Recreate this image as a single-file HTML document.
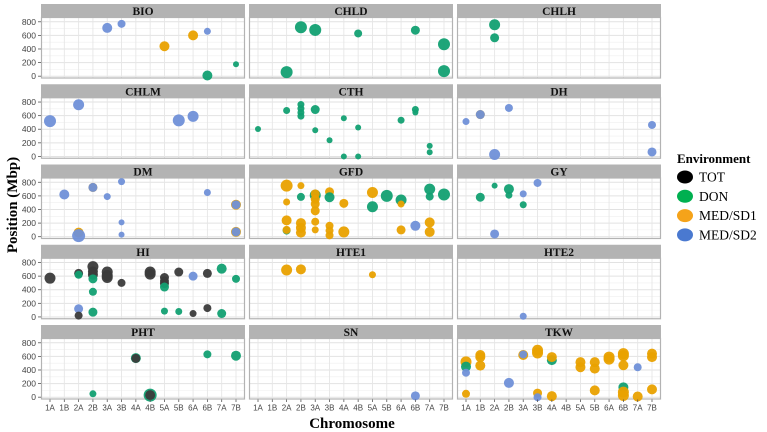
<!DOCTYPE html>
<html><head><meta charset="utf-8"><style>
body{margin:0;background:#fff;}
svg{display:block;font-family:"Liberation Serif",serif;}
</style></head><body>
<svg id="chart" width="767" height="432" viewBox="0 0 767 432"></svg>
<script>
const chromosomes=["1A","1B","2A","2B","3A","3B","4A","4B","5A","5B","6A","6B","7A","7B"];
const yTicks=[0,200,400,600,800];
const traits=["BIO","CHLD","CHLH","CHLM","CTH","DH","DM","GFD","GY","HI","HTE1","HTE2","PHT","SN","TKW"];
const envNames=["TOT","DON","MED/SD1","MED/SD2"];
// [chromosome, position Mbp, environment, bubble radius]
const BIO=[["3A",710,"MED/SD2",5],["3B",770,"MED/SD2",4],["5A",440,"MED/SD1",5],["6A",600,"MED/SD1",5],["6B",660,"MED/SD2",3.5],["6B",10,"DON",5],["7B",175,"DON",3]];
const CHLD=[["2B",720,"DON",6],["3A",680,"DON",6],["4B",628,"DON",4],["6B",676,"DON",4.5],["7B",470,"DON",6],["7B",74,"DON",6],["2A",59,"DON",6]];
const CHLH=[["2A",756,"DON",5.5],["2A",565,"DON",4.5]];
const CHLM=[["1A",520,"MED/SD2",6],["2A",760,"MED/SD2",5.5],["5B",530,"MED/SD2",6],["6A",590,"MED/SD2",5.5]];
const CTH=[["1A",404,"DON",3],["2A",675,"DON",3.5],["2B",763,"DON",3.5],["2B",704,"DON",3.5],["2B",647,"DON",3.5],["2B",593,"DON",3.5],["3A",690,"DON",4.5],["3A",385,"DON",3],["3B",238,"DON",3],["4A",562,"DON",3],["4A",0,"DON",3],["4B",425,"DON",3],["4B",0,"DON",3],["6A",533,"DON",3.5],["6B",690,"DON",3.5],["6B",646,"DON",3],["7A",155,"DON",3],["7A",62,"DON",3]];
const DH=[["1A",513,"MED/SD2",3.5],["1B",616,"MED/SD1",4.5],["1B",616,"MED/SD2",4.5],["2B",713,"MED/SD2",4],["2A",28,"MED/SD2",5.5],["7B",463,"MED/SD2",4],["7B",66,"MED/SD2",4.5]];
const DM=[["1B",620,"MED/SD2",5],["2A",60,"MED/SD1",5],["2A",15,"MED/SD2",6.5],["2B",725,"MED/SD1",4.5],["2B",725,"MED/SD2",4.5],["3A",590,"MED/SD2",3.5],["3B",810,"MED/SD2",3.5],["3B",210,"MED/SD2",3],["3B",30,"MED/SD2",3],["6B",650,"MED/SD2",3.5],["7B",470,"MED/SD1",5],["7B",470,"MED/SD2",4.5],["7B",70,"MED/SD1",5],["7B",70,"MED/SD2",4.5]];
const GFD=[["2A",750,"MED/SD1",6],["2A",510,"MED/SD1",3.5],["2A",240,"MED/SD1",5],["2A",90,"DON",4],["2A",100,"MED/SD1",4],["2B",750,"MED/SD1",3.5],["2B",585,"DON",4],["2B",200,"MED/SD1",5],["2B",130,"MED/SD1",5],["2B",60,"MED/SD1",5],["3A",610,"DON",5.5],["3A",630,"MED/SD1",4.5],["3A",550,"MED/SD1",4.5],["3A",480,"MED/SD1",4.5],["3A",380,"MED/SD1",4.5],["3A",220,"MED/SD1",4],["3A",100,"MED/SD1",3.5],["3B",660,"MED/SD1",4.5],["3B",580,"DON",5],["3B",160,"MED/SD1",4],["3B",90,"MED/SD1",4],["3B",20,"MED/SD1",4],["4A",490,"MED/SD1",4.5],["4A",70,"MED/SD1",5.5],["5A",650,"MED/SD1",5.5],["5A",440,"DON",5.5],["5B",600,"DON",6],["6A",540,"DON",5.5],["6A",480,"MED/SD1",3.5],["6A",100,"MED/SD1",4.5],["6B",160,"MED/SD2",5],["7A",700,"DON",5.5],["7A",590,"DON",4],["7A",210,"MED/SD1",5],["7A",70,"MED/SD1",5],["7B",620,"DON",6]];
const GY=[["1B",580,"DON",4.5],["2A",750,"DON",3],["2A",40,"MED/SD2",4.5],["2B",700,"DON",5],["2B",610,"DON",3.5],["3A",630,"MED/SD2",3.5],["3A",470,"DON",3.5],["3B",790,"MED/SD2",4]];
const HI=[["1A",570,"TOT",5.5],["2A",640,"TOT",4.5],["2A",620,"DON",4],["2A",120,"MED/SD2",4.5],["2A",20,"TOT",4],["2B",740,"TOT",5.5],["2B",670,"TOT",5],["2B",620,"TOT",5],["2B",560,"DON",4.5],["2B",370,"DON",4],["2B",70,"DON",4.5],["3A",660,"TOT",5.5],["3A",610,"TOT",5.5],["3A",580,"TOT",5.5],["3B",500,"TOT",4],["4B",660,"TOT",5.5],["4B",630,"TOT",5.5],["5A",580,"TOT",4.5],["5A",530,"TOT",4.5],["5A",490,"TOT",4.5],["5A",440,"DON",4.5],["5A",85,"DON",3.5],["5B",660,"TOT",4.5],["5B",80,"DON",3.5],["6A",600,"MED/SD2",4.5],["6A",50,"TOT",3.5],["6B",640,"TOT",4.5],["6B",130,"TOT",4],["7A",710,"DON",5],["7A",50,"DON",4.5],["7B",560,"DON",4]];
const HTE1=[["2A",690,"MED/SD1",5.5],["2B",700,"MED/SD1",5],["5A",620,"MED/SD1",3.5]];
const HTE2=[["3A",10,"MED/SD2",3.5]];
const PHT=[["2B",50,"DON",3.5],["4A",575,"DON",5],["4A",570,"TOT",4.5],["4B",30,"DON",6.5],["4B",30,"TOT",5],["6B",630,"DON",4],["7B",610,"DON",5]];
const SN=[["6B",20,"MED/SD2",4.5]];
const TKW=[["1A",520,"MED/SD1",5.5],["1A",450,"DON",5],["1A",360,"MED/SD2",4],["1A",50,"MED/SD1",4],["1B",620,"MED/SD1",5],["1B",590,"MED/SD1",5],["1B",465,"MED/SD1",5],["2B",210,"MED/SD2",5],["3A",620,"MED/SD1",5],["3A",628,"MED/SD2",4],["3B",690,"MED/SD1",5.5],["3B",650,"MED/SD1",5.5],["3B",60,"MED/SD1",4.5],["3B",0,"MED/SD2",4],["4A",545,"DON",5],["4A",590,"MED/SD1",5],["4A",15,"MED/SD1",5],["5A",515,"MED/SD1",5],["5A",440,"MED/SD1",5],["5B",515,"MED/SD1",5],["5B",420,"MED/SD1",5],["5B",100,"MED/SD1",5],["6A",590,"MED/SD1",5.5],["6A",560,"MED/SD1",5.5],["6B",640,"MED/SD1",5.5],["6B",610,"MED/SD1",5.5],["6B",470,"MED/SD1",5],["6B",145,"DON",5],["6B",75,"MED/SD1",5.5],["6B",25,"MED/SD1",5.5],["7A",440,"MED/SD2",4],["7A",10,"MED/SD1",5],["7B",640,"MED/SD1",5],["7B",590,"MED/SD1",5],["7B",115,"MED/SD1",5]];
const panelData=[BIO,CHLD,CHLH,CHLM,CTH,DH,DM,GFD,GY,HI,HTE1,HTE2,PHT,SN,TKW];

const ptColor={"TOT":"#3b3b3b","DON":"#12a072","MED/SD1":"#e9a100","MED/SD2":"#7090d8"};
const legColor={"TOT":"#000000","DON":"#00b050","MED/SD1":"#f5a31a","MED/SD2":"#4a79d0"};
const NS="http://www.w3.org/2000/svg";
const svg=document.getElementById('chart');
function mk(tag,attrs,parent){const e=document.createElementNS(NS,tag);for(const k in attrs)e.setAttribute(k,attrs[k]);(parent||svg).appendChild(e);return e;}
const colX=[41,249,457],panelW=204,rowPitch=80.25,stripH=13.5,plotH=61;
const yMin=-34,yMax=863;
function xScale(px,c){return px+9+chromosomes.indexOf(c)*(186/13);}
function yScale(top,v){return top+plotH-(v-yMin)/(yMax-yMin)*plotH;}

traits.forEach((t,i)=>{
  const col=i%3,row=Math.floor(i/3);
  const px=colX[col],sy=4+row*rowPitch,top=sy+stripH;
  const g=mk('g',{});
  
  
  const strip=mk('rect',{x:px,y:sy,width:panelW,height:stripH,fill:'#b3b3b3'},g);
  
  
  const st=mk('text',{x:px+panelW/2,y:sy+11,'text-anchor':'middle','font-size':'11.5','font-weight':'bold',fill:'#111'},g);
  st.textContent=t;
  
  
  mk('rect',{x:px,y:top,width:panelW,height:plotH,fill:'#fff'},g);
  for(let v=-100;v<=900;v+=100){
    if(v<yMin||v>yMax)continue;
    const yy=yScale(top,v);
    mk('line',{x1:px,x2:px+panelW,y1:yy,y2:yy,stroke:v%200===0?'#e2e2e2':'#efefef','stroke-width':v%200===0?1:0.6},g);
  }
  chromosomes.forEach(c=>{const xx=xScale(px,c);mk('line',{x1:xx,x2:xx,y1:top,y2:top+plotH,stroke:'#e6e6e6','stroke-width':0.9},g);});
  const border=mk('rect',{x:px+0.5,y:top,width:panelW-1,height:plotH-0.5,fill:'none',stroke:'#b3b3b3','stroke-width':1.2},g);
  
  
  panelData[i].forEach(d=>{
    const c=mk('circle',{cx:xScale(px,d[0]),cy:yScale(top,d[1]),r:d[3],fill:ptColor[d[2]],'fill-opacity':0.95},g);
    
    
  });
  if(col===0){
    yTicks.forEach(v=>{
      const yy=yScale(top,v);
      mk('line',{x1:px-3,x2:px,y1:yy,y2:yy,stroke:'#555','stroke-width':0.8},g);
      const tl=mk('text',{x:px-5,y:yy+3,'text-anchor':'end','font-size':'8.5',fill:'#444','font-family':'Liberation Sans, sans-serif'},g);
      tl.textContent=v;
      
      
    });
  }
  if(row===4){
    chromosomes.forEach(c=>{
      const xx=xScale(px,c);
      mk('line',{x1:xx,x2:xx,y1:top+plotH,y2:top+plotH+2.5,stroke:'#555','stroke-width':0.8},g);
      const tl=mk('text',{x:xx,y:top+plotH+11,'text-anchor':'middle','font-size':'8',fill:'#444','font-family':'Liberation Sans, sans-serif'},g);
      tl.textContent=c;
      
      
    });
  }
});

const yt=mk('text',{x:0,y:0,transform:'translate(17,205) rotate(-90)','text-anchor':'middle','font-size':'15','font-weight':'bold',fill:'#000'});
yt.textContent='Position (Mbp)';


const xt=mk('text',{x:352,y:428,'text-anchor':'middle','font-size':'15','font-weight':'bold',fill:'#000'});
xt.textContent='Chromosome';



const lt=mk('text',{x:677,y:163,'font-size':'13','font-weight':'bold',fill:'#000'});
lt.textContent='Environment';


envNames.forEach((e,k)=>{
  const cy=177+k*19.3;
  const lg=mk('g',{});
  
  
  mk('ellipse',{cx:685,cy:cy,rx:8,ry:6.5,fill:legColor[e]},lg);
  const tx=mk('text',{x:699,y:cy+4.5,'font-size':'13.5',fill:'#000'},lg);
  tx.textContent=e;
});
</script>
</body></html>
